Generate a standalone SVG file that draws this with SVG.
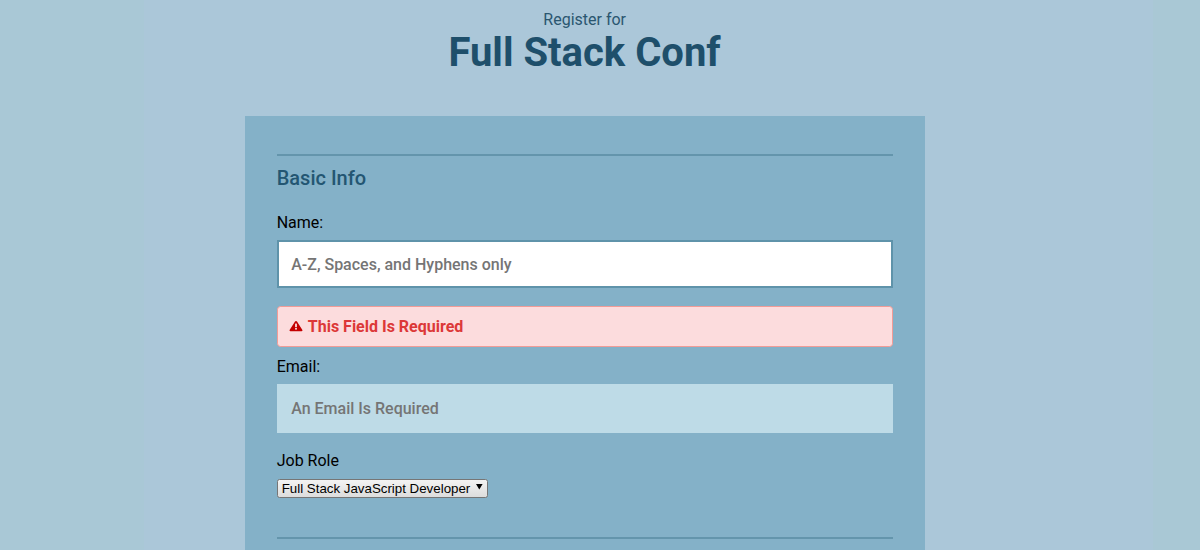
<svg xmlns="http://www.w3.org/2000/svg" width="1200" height="550" viewBox="0 0 1200 550">
<style>
text{font-family:Roboto,"Liberation Sans",sans-serif}
.label{font-size:16px;fill:#000}
.ph{font-size:16px;font-weight:500;fill:#757575}
.rule{fill:#6495ac}
</style>
<defs>
<linearGradient id="sel" x1="0" y1="0" x2="0" y2="1">
<stop offset="0" stop-color="#f4f4f4"/><stop offset="1" stop-color="#dcdcdc"/>
</linearGradient>
</defs>
<rect width="1200" height="550" fill="#abc7d9"/>
<rect width="144" height="550" fill="#a9c8d6"/>
<rect x="1153" width="47" height="550" fill="#a9c8d5"/>
<g id="header">
<text x="584.7" y="25" text-anchor="middle" font-size="16" fill="#2a5670">Register for</text>
<text x="584.5" y="66" text-anchor="middle" font-size="40" font-weight="700" fill="#1e4f6b">Full Stack Conf</text>
</g>
<g id="panel">
<rect x="245" y="116" width="680" height="434" fill="#84b1c8"/>
<rect class="rule" x="277" y="154" width="616" height="2"/>
<rect class="rule" x="277" y="537" width="616" height="2"/>
<text x="276.7" y="185" font-size="20" font-weight="500" fill="#235672">Basic Info</text>
</g>
<g id="name-field">
<text class="label" x="276.7" y="228">Name:</text>
<rect x="278" y="241" width="614" height="46" fill="#fff" stroke="#5f93aa" stroke-width="2"/>
<text class="ph" x="291.2" y="270">A-Z, Spaces, and Hyphens only</text>
</g>
<g id="error">
<rect x="277.5" y="306.5" width="615" height="40" rx="3" fill="#fcdcdd" stroke="#f19c97"/>
<path d="M296 321 C296.5 321 296.8 321.2 297 321.6 L302.4 330 C302.7 330.6 302.3 331.2 301.6 331.2 H290.4 C289.7 331.2 289.3 330.6 289.6 330 L295 321.6 C295.2 321.2 295.5 321 296 321 Z" fill="#c40000"/>
<rect x="295.1" y="323.6" width="1.8" height="3.6" fill="#fcdcdd"/>
<rect x="295.1" y="328" width="1.8" height="1.6" fill="#fcdcdd"/>
<text x="307.8" y="332" font-size="16" font-weight="700" fill="#dc3838">This Field Is Required</text>
</g>
<g id="email-field">
<text class="label" x="276.7" y="372">Email:</text>
<rect x="277" y="384" width="616" height="49" fill="#bedbe7"/>
<text class="ph" x="291.2" y="414">An Email Is Required</text>
</g>
<g id="job-role">
<text class="label" x="276.7" y="466">Job Role</text>
<rect x="277.5" y="479.5" width="210" height="18" rx="2" fill="url(#sel)" stroke="#767676"/>
<text x="281.7" y="493" font-size="13.33" textLength="188.6" style="font-family:'Liberation Sans',Arial,sans-serif" fill="#000">Full Stack JavaScript Developer</text>
<path d="M476 484 H482.6 L479.3 489.6 Z" fill="#000"/>
</g>
</svg>
